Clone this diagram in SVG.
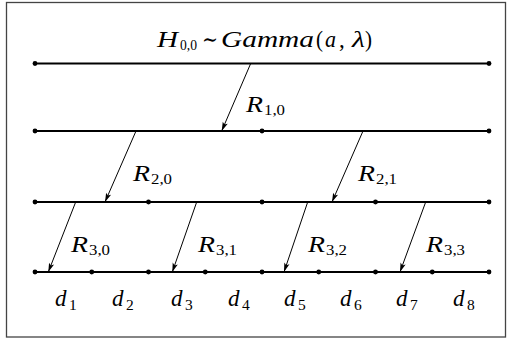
<svg xmlns="http://www.w3.org/2000/svg" width="507" height="338" viewBox="0 0 507 338">
<style>
.frame{fill:#fff;stroke:#444;stroke-width:1.3}
.lv{stroke:#000;stroke-width:1.8;fill:none}
.dot{fill:#000}
.arr{stroke:#000;stroke-width:1;fill:none;marker-end:url(#ah)}
text{font-family:'Liberation Serif','DejaVu Serif',serif;fill:#000}
.m{font-size:23px;font-style:italic}
.n{font-size:23px}
.s{font-size:15.5px}
</style>
<defs>
<marker id="ah" markerUnits="userSpaceOnUse" markerWidth="12" markerHeight="8" viewBox="-10 -4 12 8" refX="0" refY="0" orient="auto">
<path d="M0,0 L-9,-2.7 L-7,0 L-9,2.7 Z" fill="#000"/>
</marker>
</defs>
<rect class="frame" x="6.5" y="2.5" width="499" height="334.5"/>
<g id="title">
<text class="m" x="157" y="46.5" textLength="21" lengthAdjust="spacingAndGlyphs">H</text>
<text class="s" x="180" y="50" textLength="17" lengthAdjust="spacingAndGlyphs">0,0</text>
<text class="n" x="202" y="46.5" textLength="16" lengthAdjust="spacingAndGlyphs">∼</text>
<text class="m" x="221" y="46.5" textLength="93" lengthAdjust="spacingAndGlyphs">Gamma</text>
<text class="n" x="316" y="46.5" textLength="7" lengthAdjust="spacingAndGlyphs">(</text>
<text class="m" x="325" y="46.5" textLength="11" lengthAdjust="spacingAndGlyphs">a</text>
<text class="n" x="339" y="46.5">,</text>
<text class="m" x="352" y="46.5" textLength="13" lengthAdjust="spacingAndGlyphs">λ</text>
<text class="n" x="365" y="46.5" textLength="7" lengthAdjust="spacingAndGlyphs">)</text>
</g>
<g id="level0">
<line class="lv" x1="35" y1="63.5" x2="489" y2="63.5"/>
<circle class="dot" cx="35" cy="63.5" r="2.4"/><circle class="dot" cx="489" cy="63.5" r="2.4"/>
</g>
<g id="level1">
<line class="lv" x1="35" y1="131" x2="489" y2="131"/>
<circle class="dot" cx="35" cy="131" r="2.4"/><circle class="dot" cx="262" cy="131" r="2.4"/><circle class="dot" cx="489" cy="131" r="2.4"/>
</g>
<g id="level2">
<line class="lv" x1="35" y1="202" x2="489" y2="202"/>
<circle class="dot" cx="35" cy="202" r="2.4"/><circle class="dot" cx="148.5" cy="202" r="2.4"/><circle class="dot" cx="262" cy="202" r="2.4"/><circle class="dot" cx="375.5" cy="202" r="2.4"/><circle class="dot" cx="489" cy="202" r="2.4"/>
</g>
<g id="level3">
<line class="lv" x1="35" y1="272" x2="489" y2="272"/>
<circle class="dot" cx="35" cy="272" r="2.4"/><circle class="dot" cx="91.75" cy="272" r="2.4"/><circle class="dot" cx="148.5" cy="272" r="2.4"/><circle class="dot" cx="205.25" cy="272" r="2.4"/><circle class="dot" cx="262" cy="272" r="2.4"/><circle class="dot" cx="318.75" cy="272" r="2.4"/><circle class="dot" cx="375.5" cy="272" r="2.4"/><circle class="dot" cx="432.25" cy="272" r="2.4"/><circle class="dot" cx="489" cy="272" r="2.4"/>
</g>
<g id="connectors">
<line class="arr" x1="250.7" y1="63.5" x2="221.7" y2="131"/>
<line class="arr" x1="136" y1="131" x2="105" y2="202"/>
<line class="arr" x1="363" y1="131" x2="332" y2="202"/>
<line class="arr" x1="75.7" y1="202" x2="48.3" y2="272"/>
<line class="arr" x1="196.7" y1="202" x2="172.3" y2="272"/>
<line class="arr" x1="307.7" y1="202" x2="284" y2="272"/>
<line class="arr" x1="425.7" y1="202" x2="400" y2="272"/>
</g>
<g id="label-R10"><text class="m" x="246" y="111.5" textLength="17" lengthAdjust="spacingAndGlyphs">R</text><text class="s" x="264" y="115" textLength="21" lengthAdjust="spacingAndGlyphs">1,0</text></g>
<g id="label-R20"><text class="m" x="133" y="180.5" textLength="17" lengthAdjust="spacingAndGlyphs">R</text><text class="s" x="151" y="184" textLength="21" lengthAdjust="spacingAndGlyphs">2,0</text></g>
<g id="label-R21"><text class="m" x="358" y="180.5" textLength="17" lengthAdjust="spacingAndGlyphs">R</text><text class="s" x="376" y="184" textLength="21" lengthAdjust="spacingAndGlyphs">2,1</text></g>
<g id="label-R30"><text class="m" x="71" y="251.5" textLength="17" lengthAdjust="spacingAndGlyphs">R</text><text class="s" x="89" y="255" textLength="21" lengthAdjust="spacingAndGlyphs">3,0</text></g>
<g id="label-R31"><text class="m" x="198" y="251.5" textLength="17" lengthAdjust="spacingAndGlyphs">R</text><text class="s" x="216" y="255" textLength="21" lengthAdjust="spacingAndGlyphs">3,1</text></g>
<g id="label-R32"><text class="m" x="308" y="251.5" textLength="17" lengthAdjust="spacingAndGlyphs">R</text><text class="s" x="326" y="255" textLength="21" lengthAdjust="spacingAndGlyphs">3,2</text></g>
<g id="label-R33"><text class="m" x="426" y="251.5" textLength="17" lengthAdjust="spacingAndGlyphs">R</text><text class="s" x="444" y="255" textLength="21" lengthAdjust="spacingAndGlyphs">3,3</text></g>
<g id="label-d1"><text class="m" x="55" y="306">d</text><text class="s" x="69" y="310">1</text></g>
<g id="label-d2"><text class="m" x="112" y="306">d</text><text class="s" x="126" y="310">2</text></g>
<g id="label-d3"><text class="m" x="171" y="306">d</text><text class="s" x="185" y="310">3</text></g>
<g id="label-d4"><text class="m" x="228" y="306">d</text><text class="s" x="242" y="310">4</text></g>
<g id="label-d5"><text class="m" x="284" y="306">d</text><text class="s" x="298" y="310">5</text></g>
<g id="label-d6"><text class="m" x="340" y="306">d</text><text class="s" x="354" y="310">6</text></g>
<g id="label-d7"><text class="m" x="396" y="306">d</text><text class="s" x="410" y="310">7</text></g>
<g id="label-d8"><text class="m" x="453" y="306">d</text><text class="s" x="467" y="310">8</text></g>
</svg>
